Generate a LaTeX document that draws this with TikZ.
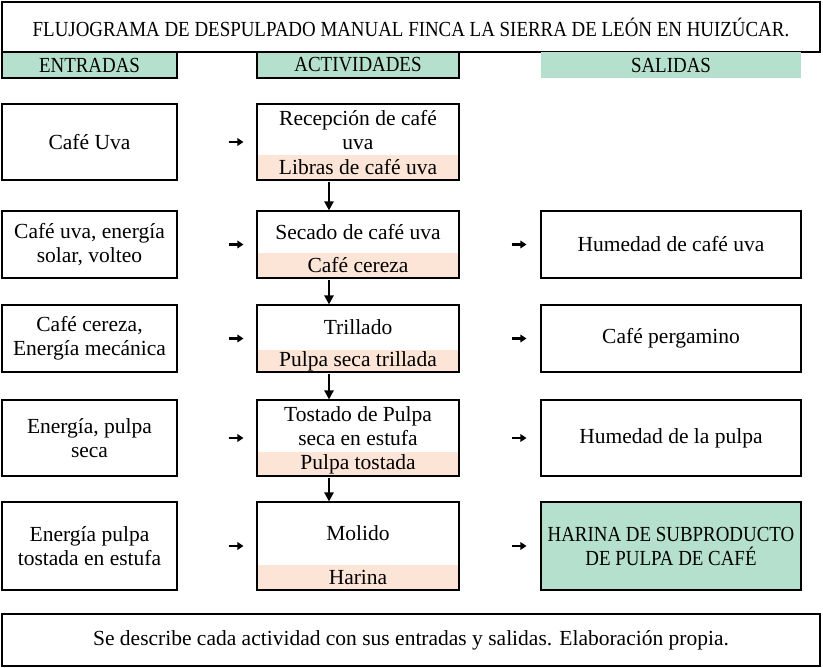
\documentclass[tikz,border=0pt]{standalone}
\usepackage{fontspec}
\usepackage{graphicx}
\setmainfont{Liberation Serif}
\usetikzlibrary{arrows.meta,calc}
\definecolor{hdrgreen}{HTML}{B5E0CD}
\definecolor{pinkfill}{HTML}{FCE4D6}
\newcommand{\condcaps}[1]{\scalebox{0.88}[1]{#1}}
\begin{document}
\begin{tikzpicture}[x=1pt,y=-1pt,
  fnt/.style={font=\fontsize{21.5}{24}\selectfont},
  box/.style={draw, line width=1.1pt, inner sep=0pt, align=center, fnt},
  hdr/.style={box, fill=hdrgreen},
  txt/.style={inner sep=0pt, align=center, fnt},
  pinkpart/.style={fill=pinkfill, inner sep=0pt, minimum width=202pt, align=center, fnt},
  inbox/.style={box, minimum width=175pt},
  actbox/.style={box, minimum width=202pt},
  outbox/.style={box, minimum width=260pt},
  rarr/.style={-{Triangle[length=6pt,width=7.5pt]}, line width=2.6pt},
  darr/.style={-{Triangle[length=9pt,width=9pt]}, line width=2.4pt},
]
\useasboundingbox (0,0) rectangle (823,668);
% title
\node[box, minimum width=818pt, minimum height=50pt] (title) at (411,27)
  {\condcaps{FLUJOGRAMA DE DESPULPADO MANUAL FINCA LA SIERRA DE LEÓN EN HUIZÚCAR.}};
% headers
\node[hdr, minimum width=175pt, minimum height=26pt] (hin) at (89.5,65) {\condcaps{ENTRADAS}};
\node[hdr, minimum width=202pt, minimum height=26pt] (hact) at (358,65) {\condcaps{ACTIVIDADES}};
\node[txt, fill=hdrgreen, minimum width=260pt, minimum height=26pt] (hout) at (671,65) {\condcaps{SALIDAS}};
% footer
\node[box, minimum width=818pt, minimum height=52pt] (foot) at (411,640)
  {Se describe cada actividad con sus entradas y salidas. Elaboración propia.};

% row 1
\node[inbox, minimum height=76pt] (i1) at (89.5,142) {Café Uva};
\node[pinkpart, minimum height=25pt] (p1) at (358,167.5) {Libras de café uva};
\node[actbox, minimum height=76pt] (a1) at (358,142) {};
\node[txt] (t1) at (358,130) {Recepción de café\\uva};
% row 2
\node[inbox, minimum height=67pt] (i2) at (89.5,244.5) {Café uva, energía\\solar, volteo};
\node[pinkpart, minimum height=25pt] (p2) at (358,265.5) {Café cereza};
\node[actbox, minimum height=67pt] (a2) at (358,244.5) {};
\node[txt] (t2) at (358,232) {Secado de café uva};
\node[outbox, minimum height=67pt] (o2) at (671,244.5) {Humedad de café uva};
% row 3
\node[inbox, minimum height=67pt] (i3) at (89.5,338.5) {Café cereza,\\Energía mecánica};
\node[pinkpart, minimum height=22pt] (p3) at (358,361) {Pulpa seca trillada};
\node[actbox, minimum height=67pt] (a3) at (358,338.5) {};
\node[txt] (t3) at (358,327.5) {Trillado};
\node[outbox, minimum height=67pt] (o3) at (671,338.5) {Café pergamino};
% row 4
\node[inbox, minimum height=76pt] (i4) at (89.5,438) {Energía, pulpa\\seca};
\node[pinkpart, minimum height=24pt] (p4) at (358,464) {Pulpa tostada};
\node[actbox, minimum height=76pt] (a4) at (358,438) {};
\node[txt] (t4) at (358,426) {Tostado de Pulpa\\seca en estufa};
\node[outbox, minimum height=76pt] (o4) at (671,438) {Humedad de la pulpa};
% row 5
\node[inbox, minimum height=88pt] (i5) at (89.5,546) {Energía pulpa\\tostada en estufa};
\node[pinkpart, minimum height=25pt] (p5) at (358,577.5) {Harina};
\node[actbox, minimum height=88pt] (a5) at (358,546) {};
\node[txt] (t5) at (358,533.5) {Molido};
\node[outbox, fill=hdrgreen, minimum height=88pt] (o5) at (671,546)
  {\condcaps{HARINA DE SUBPRODUCTO}\\\condcaps{DE PULPA DE CAFÉ}};

% right arrows
\foreach \r in {1,...,5}{
  \draw[rarr, shorten <=51pt, shorten >=13pt] (i\r.east) -- (a\r.west);
}
\foreach \r in {2,...,5}{
  \draw[rarr, shorten <=52pt, shorten >=14pt] (a\r.east) -- (o\r.west);
}
% down arrows
\coordinate (ax) at (329,0);
\draw[darr, shorten <=1pt] (a1.south -| ax) -- (a2.north -| ax);
\draw[darr, shorten <=1pt] (a2.south -| ax) -- (a3.north -| ax);
\draw[darr, shorten <=1pt] (a3.south -| ax) -- (a4.north -| ax);
\draw[darr, shorten <=1pt] (a4.south -| ax) -- (a5.north -| ax);
\end{tikzpicture}
\end{document}
